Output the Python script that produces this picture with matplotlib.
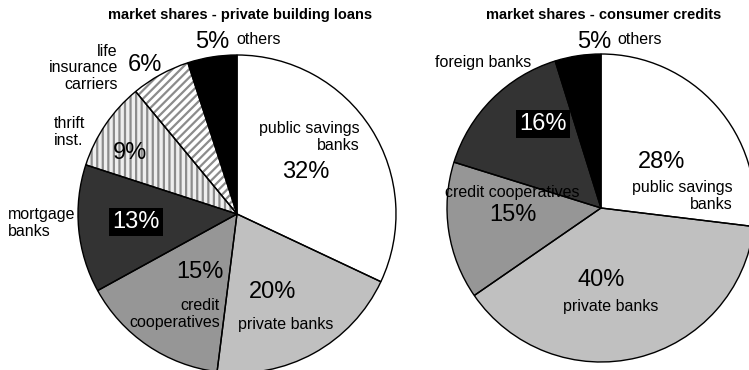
import matplotlib.pyplot as plt

plt.rcParams['font.family'] = ['Liberation Sans', 'DejaVu Sans']
plt.rcParams['hatch.linewidth'] = 1.6

W, H = 749, 370

# private building loans, clockwise from 12 o'clock
loan_names = ['public savings banks', 'private banks', 'credit cooperatives',
              'mortgage banks', 'thrift inst.', 'life insurance carriers', 'others']
loan_shares = [32, 20, 15, 13, 9, 6, 5]

# consumer credits, clockwise from 12 o'clock
credit_names = ['public savings banks', 'private banks', 'credit cooperatives',
                'foreign banks', 'others']
credit_shares = [28, 40, 15, 16, 5]

fills = {'public savings banks': '#ffffff', 'private banks': '#c0c0c0',
         'credit cooperatives': '#969696', 'mortgage banks': '#333333',
         'foreign banks': '#333333', 'thrift inst.': '#eeeeee',
         'life insurance carriers': '#ffffff', 'others': '#000000'}
hatches = {'thrift inst.': '|||', 'life insurance carriers': '////'}

fig = plt.figure(figsize=(W / 100, H / 100), dpi=100)


def px(x, y):
    return x / W, 1 - y / H


def pie_axes(cx, cy, r):
    return fig.add_axes([(cx - r) / W, (H - cy - r) / H, 2 * r / W, 2 * r / H])


def draw_pie(ax, names, shares):
    wedges, _ = ax.pie(shares, startangle=90, counterclock=False, radius=1,
                       colors=[fills[n] for n in names],
                       wedgeprops=dict(linewidth=0))
    for w, n in zip(wedges, names):
        w.set_clip_on(False)
        if n in hatches:
            w.set_hatch(hatches[n])
            w.set_edgecolor('#8c8c8c')
    # outlines on top so the hatch colour stays grey
    outline, _ = ax.pie(shares, startangle=90, counterclock=False, radius=1,
                        colors=['none'] * len(shares),
                        wedgeprops=dict(linewidth=1.0, edgecolor='black'))
    for w in outline:
        w.set_clip_on(False)
        w.set_facecolor('none')
    # pie() resets the limits, so pin them to the unit circle afterwards
    ax.set_xlim(-1, 1)
    ax.set_ylim(-1, 1)
    ax.axis('off')


ax1 = pie_axes(237, 214, 159)
draw_pie(ax1, loan_names, loan_shares)
ax2 = pie_axes(601, 208, 154)
draw_pie(ax2, credit_names, credit_shares)

big = 17
small = 11.5
ls = 1.1

fig.text(*px(240, 15), 'market shares - private building loans', ha='center',
         va='center', fontsize=10.5, fontweight='bold')
fig.text(*px(604, 15), 'market shares - consumer credits', ha='center',
         va='center', fontsize=10.5, fontweight='bold')

# labels for the building loans pie
L = dict(zip(loan_names, loan_shares))
fig.text(*px(360, 137), 'public savings\nbanks', ha='right', va='center',
         fontsize=small, linespacing=ls)
fig.text(*px(306, 172), f"{L['public savings banks']}%", ha='center', va='center', fontsize=big)
fig.text(*px(273, 292), f"{L['private banks']}%", ha='center', va='center', fontsize=big)
fig.text(*px(286, 325), 'private banks', ha='center', va='center', fontsize=small)
fig.text(*px(200, 272), f"{L['credit cooperatives']}%", ha='center', va='center', fontsize=big)
fig.text(*px(220, 314), 'credit\ncooperatives', ha='right', va='center',
         fontsize=small, linespacing=ls)
fig.text(*px(136, 222), f"{L['mortgage banks']}%", ha='center', va='center', fontsize=big,
         color='white', bbox=dict(facecolor='black', edgecolor='none', pad=2))
fig.text(*px(8, 223), 'mortgage\nbanks', ha='left', va='center',
         fontsize=small, linespacing=ls)
fig.text(*px(130, 153), f"{L['thrift inst.']}%", ha='center', va='center', fontsize=big)
fig.text(*px(54, 132), 'thrift\ninst.', ha='left', va='center',
         fontsize=small, linespacing=ls)
fig.text(*px(145, 65), f"{L['life insurance carriers']}%", ha='center', va='center', fontsize=big)
fig.text(*px(118, 68), 'life\ninsurance\ncarriers', ha='right', va='center',
         fontsize=small, linespacing=ls)
fig.text(*px(212, 42), f"{L['others']}%", ha='center', va='center', fontsize=big)
fig.text(*px(236, 40), 'others', ha='left', va='center', fontsize=small)

# labels for the consumer credits pie
C = dict(zip(credit_names, credit_shares))
fig.text(*px(662, 162), f"{C['public savings banks']}%", ha='center', va='center', fontsize=big)
fig.text(*px(733, 196), 'public savings\nbanks', ha='right', va='center',
         fontsize=small, linespacing=ls)
fig.text(*px(601, 280), f"{C['private banks']}%", ha='center', va='center', fontsize=big)
fig.text(*px(611, 307), 'private banks', ha='center', va='center', fontsize=small)
fig.text(*px(512, 192), 'credit cooperatives', ha='center', va='center', fontsize=small)
fig.text(*px(513, 215), f"{C['credit cooperatives']}%", ha='center', va='center', fontsize=big)
fig.text(*px(543, 124), f"{C['foreign banks']}%", ha='center', va='center', fontsize=big,
         color='white', bbox=dict(facecolor='black', edgecolor='none', pad=2))
fig.text(*px(483, 63), 'foreign banks', ha='center', va='center', fontsize=small)
fig.text(*px(594, 42), f"{C['others']}%", ha='center', va='center', fontsize=big)
fig.text(*px(617, 40), 'others', ha='left', va='center', fontsize=small)

fig.savefig('out.png', dpi=100)
